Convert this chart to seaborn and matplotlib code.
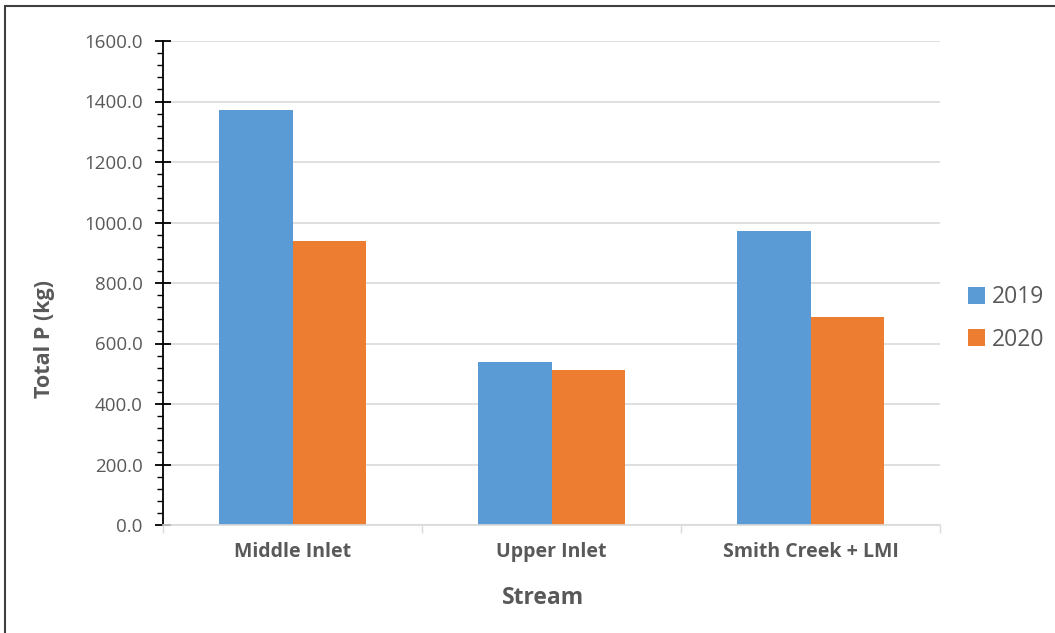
import matplotlib
matplotlib.use("Agg")
import matplotlib.pyplot as plt
import seaborn as sns
import pandas as pd
from matplotlib.ticker import MultipleLocator, FormatStrFormatter
from matplotlib.patches import Rectangle

streams = ["Middle Inlet", "Upper Inlet", "Smith Creek + LMI"]
years = ["2019", "2020"]
total_p_2019 = [1372, 539, 972]
total_p_2020 = [939, 512, 688]

df = pd.DataFrame({
    "Stream": streams * 2,
    "Year": [years[0]] * 3 + [years[1]] * 3,
    "Total P (kg)": total_p_2019 + total_p_2020,
})

sns.set_theme(style="white")
plt.rcParams["font.family"] = ["Open Sans", "DejaVu Sans"]

text_grey = "#595959"
grid_grey = "#d9d9d9"
colors = ["#5B9BD5", "#ED7D31"]

W, H = 1055, 633
fig = plt.figure(figsize=(W / 100, H / 100), dpi=100)
ax = fig.add_axes([163 / W, 1 - 525 / H, (940 - 163) / W, (525 - 41) / H])

sns.barplot(data=df, x="Stream", y="Total P (kg)", hue="Year", order=streams,
            hue_order=years, palette=colors, width=0.567, gap=0,
            saturation=1, linewidth=0, ax=ax, legend=True)

ax.set_ylim(0, 1600)
ax.set_xlim(-0.5, 2.5)
ax.yaxis.set_major_locator(MultipleLocator(200))
ax.yaxis.set_minor_locator(MultipleLocator(40))
ax.yaxis.set_major_formatter(FormatStrFormatter("%.1f"))
ax.yaxis.grid(True, which="major", color=grid_grey, linewidth=1.2)
ax.set_axisbelow(True)

for side in ["top", "right"]:
    ax.spines[side].set_visible(False)
ax.spines["left"].set_color("black")
ax.spines["left"].set_linewidth(1.3)
ax.spines["bottom"].set_color(grid_grey)
ax.spines["bottom"].set_linewidth(1.2)

ax.tick_params(axis="y", which="major", direction="inout", length=11, width=1.3,
               color="black", labelsize=13.5, labelcolor=text_grey, pad=9, left=True)
ax.tick_params(axis="y", which="minor", direction="out", length=4, width=1.0,
               color="black", left=True)

# category boundary ticks on the x axis
ax.set_xticks([0, 1, 2])
ax.set_xticks([-0.5, 0.5, 1.5, 2.5], minor=True)
ax.tick_params(axis="x", which="major", length=0, labelsize=14, labelcolor=text_grey, pad=12)
ax.tick_params(axis="x", which="minor", direction="out", length=6, width=1.0,
               color=grid_grey, bottom=True)
for lbl in ax.get_xticklabels():
    lbl.set_fontweight("bold")

ax.set_xlabel("Stream", fontsize=16.5, fontweight="bold", color=text_grey, va="center")
ax.xaxis.set_label_coords((543 - 163) / 777, (525 - 598) / 484)
ax.set_ylabel("Total P (kg)", fontsize=15.5, fontweight="bold", color=text_grey, va="center")
ax.yaxis.set_label_coords((45 - 163) / 777, (525 - 339) / 484)

leg = ax.legend(loc="center left", bbox_to_anchor=(968 / W, 1 - 318.5 / H),
                bbox_transform=fig.transFigure, frameon=False, borderpad=0,
                borderaxespad=0, fontsize=16.5, handlelength=0.75, handleheight=0.75,
                handletextpad=0.3, labelspacing=0.8, labelcolor=text_grey)

# outer chart frame
fig.patches.append(Rectangle((5 / W, -0.1), 1.2, 1 - 6 / H + 0.1, transform=fig.transFigure,
                             fill=False, edgecolor="#404040", linewidth=1.5))

fig.savefig("out.png", dpi=100, facecolor="white")
